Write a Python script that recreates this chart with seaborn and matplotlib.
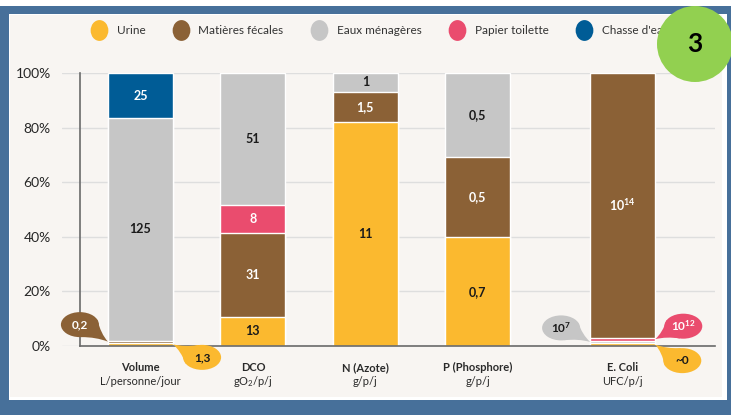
import numpy as np
import pandas as pd
import matplotlib
matplotlib.use("Agg")
import matplotlib.pyplot as plt
import matplotlib.patches as mpatches
import matplotlib.transforms as mtransforms
from matplotlib.path import Path
from matplotlib.lines import Line2D
import seaborn as sns

# ---- data (share of each bar in %) ----
categories = ["Volume", "DCO", "N (Azote)", "P (Phosphore)", "E. Coli"]
units = ["L/personne/jour", r"gO$_2$/p/j", "g/p/j", "g/p/j", "UFC/p/j"]
positions = [0, 1, 2, 3, 4.29]

series = ["Urine", "Matières fécales", "Eaux ménagères", "Papier toilette", "Chasse d'eau"]
colors = ["#fbb92f", "#8b6136", "#c6c6c6", "#ea4c6e", "#005c96"]
label_colors = ["#1a1a1a", "white", "#1a1a1a", "white", "white"]

# bottom -> top for each bar
stack_order = [
    ["Urine", "Matières fécales", "Eaux ménagères", "Chasse d'eau"],
    ["Urine", "Matières fécales", "Papier toilette", "Eaux ménagères"],
    ["Urine", "Matières fécales", "Eaux ménagères"],
    ["Urine", "Matières fécales", "Eaux ménagères"],
    ["Urine", "Eaux ménagères", "Papier toilette", "Matières fécales"],
]
stack_pct = [
    [1.2, 0.8, 81.5, 16.5],
    [10.7, 30.6, 10.3, 48.4],
    [82.2, 11.0, 6.8],
    [39.8, 29.3, 30.9],
    [1.0, 1.0, 1.0, 97.0],
]
stack_labels = [
    ["", "", "125", "25"],
    ["13", "31", "8", "51"],
    ["11", "1,5", "1"],
    ["0,7", "0,5", "0,5"],
    ["", "", "", r"10$^{14}$"],
]

# callouts for the tiny segments: (bar index, level in stack, text)
callout_bar = [0, 0, 4, 4, 4]
callout_level = [1, 0, 1, 2, 0]
callout_text = ["0,2", "1,3", r"10$^{7}$", r"10$^{12}$", "~0"]

# ---- style ----
sns.set_style("white")
plt.rcParams["font.family"] = ["Lato", "DejaVu Sans"]
plt.rcParams["mathtext.fontset"] = "custom"
plt.rcParams["mathtext.rm"] = "Lato"
plt.rcParams["mathtext.bf"] = "Lato:bold"
plt.rcParams["mathtext.default"] = "regular"

color_of = dict(zip(series, colors))
tcolor_of = dict(zip(series, label_colors))

W, H = 731, 417
fig = plt.figure(figsize=(W / 100, H / 100), dpi=100)
fig.patch.set_facecolor("white")


def px_rect(x0, y0, x1, y1, color, z):
    r = mpatches.Rectangle((x0 / W, 1 - y1 / H), (x1 - x0) / W, (y1 - y0) / H,
                           transform=fig.transFigure, facecolor=color,
                           edgecolor="none", zorder=z)
    fig.add_artist(r)


# frame
px_rect(0, 6, W, 415, "#47709a", -3)
px_rect(9, 14, 727, 400, "white", -2)
px_rect(10, 15, 722, 397, "#f8f5f2", -1)

# axes: x from 62px to 715px, y from 73px (100%) to 346px (0%)
bar_px = 112.4
x_left = (62 - 140.5) / bar_px
x_right = (715 - 140.5) / bar_px
spine_x = (80 - 140.5) / bar_px
ax = fig.add_axes([62 / W, 1 - 346 / H, (715 - 62) / W, (346 - 73) / H])
ax.set_facecolor("none")

# long table of segments
rows = []
for i, (order, pct, labs) in enumerate(zip(stack_order, stack_pct, stack_labels)):
    bottom = 0
    for lvl, (s, p, lab) in enumerate(zip(order, pct, labs)):
        rows.append(dict(pos=positions[i], level=lvl, series=s, pct=p,
                         bottom=bottom, top=bottom + p, label=lab))
        bottom += p
df = pd.DataFrame(rows)

# stacked bars: draw cumulative tops from highest level down
for lvl in sorted(df["level"].unique(), reverse=True):
    d = df[df["level"] == lvl]
    sns.barplot(data=d, x="pos", y="top", hue="series", palette=color_of,
                native_scale=True, dodge=False, width=0.58, legend=False,
                saturation=1, edgecolor="white", linewidth=1, errorbar=None,
                ax=ax, zorder=2)

for _, r in df.iterrows():
    if r["label"]:
        ax.text(r["pos"], r["bottom"] + r["pct"] / 2, r["label"], ha="center",
                va="center", fontsize=9, fontweight="bold",
                color=tcolor_of[r["series"]], zorder=4)

ax.set_xlim(x_left, x_right)
ax.set_ylim(0, 100)
ax.set_yticks(range(0, 101, 20))
ax.set_yticklabels([f"{v}%" for v in range(0, 101, 20)], fontsize=8,
                   fontweight="bold", color="#3a3a3a")
ax.set_xticks([])
ax.set_xlabel("")
ax.set_ylabel("")
ax.tick_params(axis="y", length=0, pad=21)
ax.yaxis.grid(True, color="#dedede", linewidth=1)
ax.set_axisbelow(True)
for s in ["top", "right"]:
    ax.spines[s].set_visible(False)
ax.spines["left"].set_position(("data", spine_x))
ax.spines["bottom"].set_bounds(spine_x, x_right)
for s in ["left", "bottom"]:
    ax.spines[s].set_color("#6a6a6a")
    ax.spines[s].set_linewidth(1.2)
    ax.spines[s].set_zorder(3)

# two-line category labels
for p, c, u in zip(positions, categories, units):
    ax.annotate(c, (p, 0), xytext=(0, -15.6), textcoords="offset points",
                ha="center", va="center", fontsize=8, fontweight="bold",
                color="#2a2a2a", annotation_clip=False)
    ax.annotate(u, (p, 0), xytext=(0, -25.4), textcoords="offset points",
                ha="center", va="center", fontsize=8, color="#2a2a2a",
                annotation_clip=False)


# drop-shaped callouts (geometry in pixels, relative to the tip)
def callout(x, y, dx, dy, text, color, tcolor):
    tr = mtransforms.Affine2D() + mtransforms.ScaledTranslation(x, y, ax.transData)
    a, b = 19, 12.5
    c = np.array([dx, dy], dtype=float)
    tip = np.array([0.0, 0.0])
    th = np.arctan2(-dy, -dx)
    pts = []
    for d in (0.95, -0.95):
        pts.append(c + np.array([a * np.cos(th + d), b * np.sin(th + d)]))
    u = (tip - c) / np.linalg.norm(tip - c)
    ctrls = []
    for P in pts:
        mid = (P + tip) / 2
        proj = c + np.dot(mid - c, u) * u
        ctrls.append(mid + 0.55 * (proj - mid))
    verts = [pts[0], ctrls[0], tip, ctrls[1], pts[1], c, c]
    codes = [Path.MOVETO, Path.CURVE3, Path.CURVE3, Path.CURVE3, Path.CURVE3,
             Path.LINETO, Path.CLOSEPOLY]
    ax.add_patch(mpatches.PathPatch(Path(verts, codes), facecolor=color,
                                    edgecolor="none", transform=tr,
                                    clip_on=False, zorder=5))
    ax.add_patch(mpatches.Ellipse(c, 2 * a, 2 * b, facecolor=color,
                                  edgecolor="none", transform=tr,
                                  clip_on=False, zorder=5))
    ax.text(dx, dy, text, transform=tr, ha="center", va="center", fontsize=8.5,
            fontweight="bold", color=tcolor, zorder=6, clip_on=False)


offsets = [(-28, 17), (29, -13), (-29, 14), (28, 13), (27, -16)]
half_w = 0.58 / 2
for bi, lvl, txt, (dx, dy) in zip(callout_bar, callout_level, callout_text, offsets):
    r = df[(df["pos"] == positions[bi]) & (df["level"] == lvl)].iloc[0]
    x = r["pos"] - half_w if dx < 0 else r["pos"] + half_w
    callout(x, r["bottom"] + r["pct"] / 2, dx, dy, txt,
            color_of[r["series"]], tcolor_of[r["series"]])

# legend with oval markers
circ = Path.unit_circle()
oval = Path(circ.vertices * np.array([0.85, 1.0]), circ.codes)
handles = [Line2D([], [], marker=oval, linestyle="none", markersize=15,
                  markerfacecolor=c, markeredgecolor="none") for c in colors]
fig.legend(handles, series, loc="center", bbox_to_anchor=(378 / W, 1 - 31 / H),
           ncol=5, frameon=False, fontsize=8.5, handletextpad=0.5,
           columnspacing=2.0, labelcolor="#333333")

# badge
fig.add_artist(mpatches.Ellipse((695 / W, 1 - 44 / H), 76 / W, 76 / H,
                                transform=fig.transFigure, facecolor="#92d050",
                                edgecolor="none", zorder=10))
fig.text(695 / W, 1 - 44 / H, "3", ha="center", va="center", fontsize=19,
         fontweight="bold", color="black", zorder=11)

fig.savefig("out.png", dpi=100, facecolor=fig.get_facecolor())
